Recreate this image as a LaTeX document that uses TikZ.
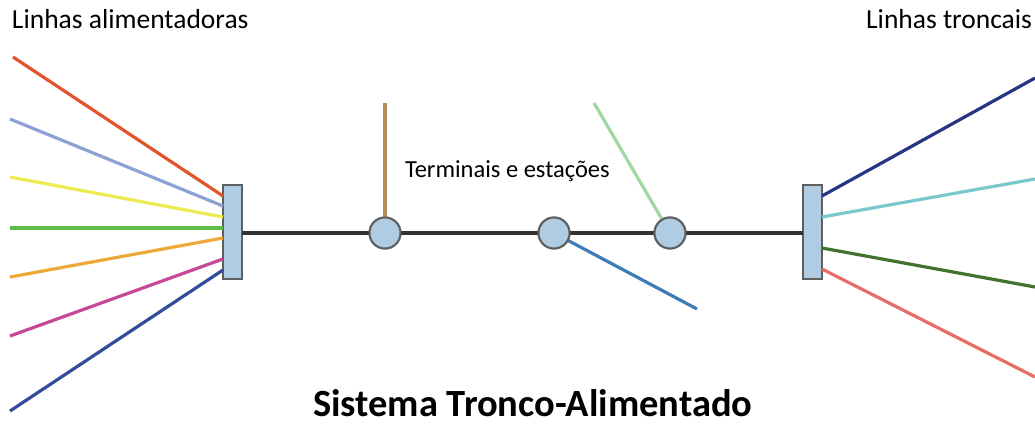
\documentclass[tikz,border=0pt]{standalone}
\usepackage{fontspec}
\setmainfont{Carlito}
\definecolor{boxfill}{RGB}{176,204,226}
\definecolor{boxdraw}{RGB}{95,95,95}
\definecolor{mainln}{RGB}{50,50,50}
\definecolor{cRed}{RGB}{226,84,44}
\definecolor{cLav}{RGB}{140,162,212}
\definecolor{cYel}{RGB}{236,236,80}
\definecolor{cGrn}{RGB}{96,186,76}
\definecolor{cOrg}{RGB}{236,168,56}
\definecolor{cMag}{RGB}{200,72,152}
\definecolor{cDBl}{RGB}{52,76,156}
\definecolor{cNavy}{RGB}{40,52,132}
\definecolor{cCyan}{RGB}{120,200,204}
\definecolor{cDGrn}{RGB}{66,114,44}
\definecolor{cSal}{RGB}{230,110,100}
\definecolor{cTan}{RGB}{182,142,92}
\definecolor{cLGrn}{RGB}{160,216,164}
\definecolor{cBlue}{RGB}{62,124,184}
\tikzset{
  hub/.style={draw=boxdraw, fill=boxfill, line width=2pt, minimum width=19pt, minimum height=94pt, inner sep=0pt, outer sep=0pt},
  stn/.style={circle, draw=boxdraw, fill=boxfill, line width=2pt, minimum size=31pt, inner sep=0pt, outer sep=0pt},
  feed/.style={line width=3.2pt},
  trunk/.style={line width=3.2pt, draw=mainln},
  lbl/.style={inner sep=0pt, outer sep=0pt, font=\fontsize{27.5}{32}\selectfont},
  midlbl/.style={inner sep=0pt, outer sep=0pt, font=\fontsize{24.5}{29}\selectfont},
  ttl/.style={inner sep=0pt, outer sep=0pt, font=\fontsize{38.5}{44}\selectfont\bfseries}
}
\begin{document}
\begin{tikzpicture}[x=1pt,y=-1pt]
\useasboundingbox (0,0) rectangle (1035,423);
% hubs and stations
\node[hub] (L) at (232.5,232) {};
\node[hub] (R) at (812.5,232) {};
\node[stn] (c1) at (385,233) {};
\node[stn] (c2) at (554,233) {};
\node[stn] (c3) at (670,233) {};
% trunk line
\draw[trunk] ([yshift=-1pt]L.east) -- (c1.west);
\draw[trunk] (c1.east) -- (c2.west);
\draw[trunk] (c2.east) -- (c3.west);
\draw[trunk] (c3.east) -- ([yshift=-1pt]R.west);
% free ends, left
\coordinate (l1) at (13,57);
\coordinate (l2) at (10,119);
\coordinate (l3) at (10,177);
\coordinate (l4) at (10,228);
\coordinate (l5) at (10,277);
\coordinate (l6) at (10,336);
\coordinate (l7) at (10,411);
\draw[feed, cRed] (l1) -- ([yshift=36pt]L.west);
\draw[feed, cLav] (l2) -- ([yshift=26pt]L.west);
\draw[feed, cYel] (l3) -- ([yshift=15pt]L.west);
\draw[feed, cGrn] (l4) -- ([yshift=4pt]L.west);
\draw[feed, cOrg] (l5) -- ([yshift=-6pt]L.west);
\draw[feed, cMag] (l6) -- ([yshift=-27pt]L.west);
\draw[feed, cDBl] (l7) -- ([yshift=-38pt]L.west);
% free ends, right
\coordinate (r1) at (1035,78);
\coordinate (r2) at (1035,179);
\coordinate (r3) at (1035,287);
\coordinate (r4) at (1035,377);
\draw[feed, cNavy] ([yshift=36pt]R.east) -- (r1);
\draw[feed, cCyan] ([yshift=15pt]R.east) -- (r2);
\draw[feed, cDGrn] ([yshift=-16pt]R.east) -- (r3);
\draw[feed, cSal] ([yshift=-37pt]R.east) -- (r4);
% station branches
\coordinate (t1) at (385,103);
\coordinate (t2) at (594,103);
\coordinate (t3) at (697,309);
\draw[feed, cTan] (t1) -- (c1);
\draw[feed, cLGrn] (t2) -- (c3);
\draw[feed, cBlue] (c2) -- (t3);
% redraw stations on top of branches
\node[stn] at (c1) {};
\node[stn] at (c2) {};
\node[stn] at (c3) {};
% labels
\node[lbl, anchor=base west] (la) at (12,28) {Linhas alimentadoras};
\node[lbl, anchor=base east] (lt) at (1032,28) {Linhas troncais};
\node[midlbl, anchor=base west] (te) at (405,177) {Terminais e estações};
\node[ttl, anchor=base west] (st) at (313,416) {Sistema Tronco-Alimentado};
\end{tikzpicture}
\end{document}
